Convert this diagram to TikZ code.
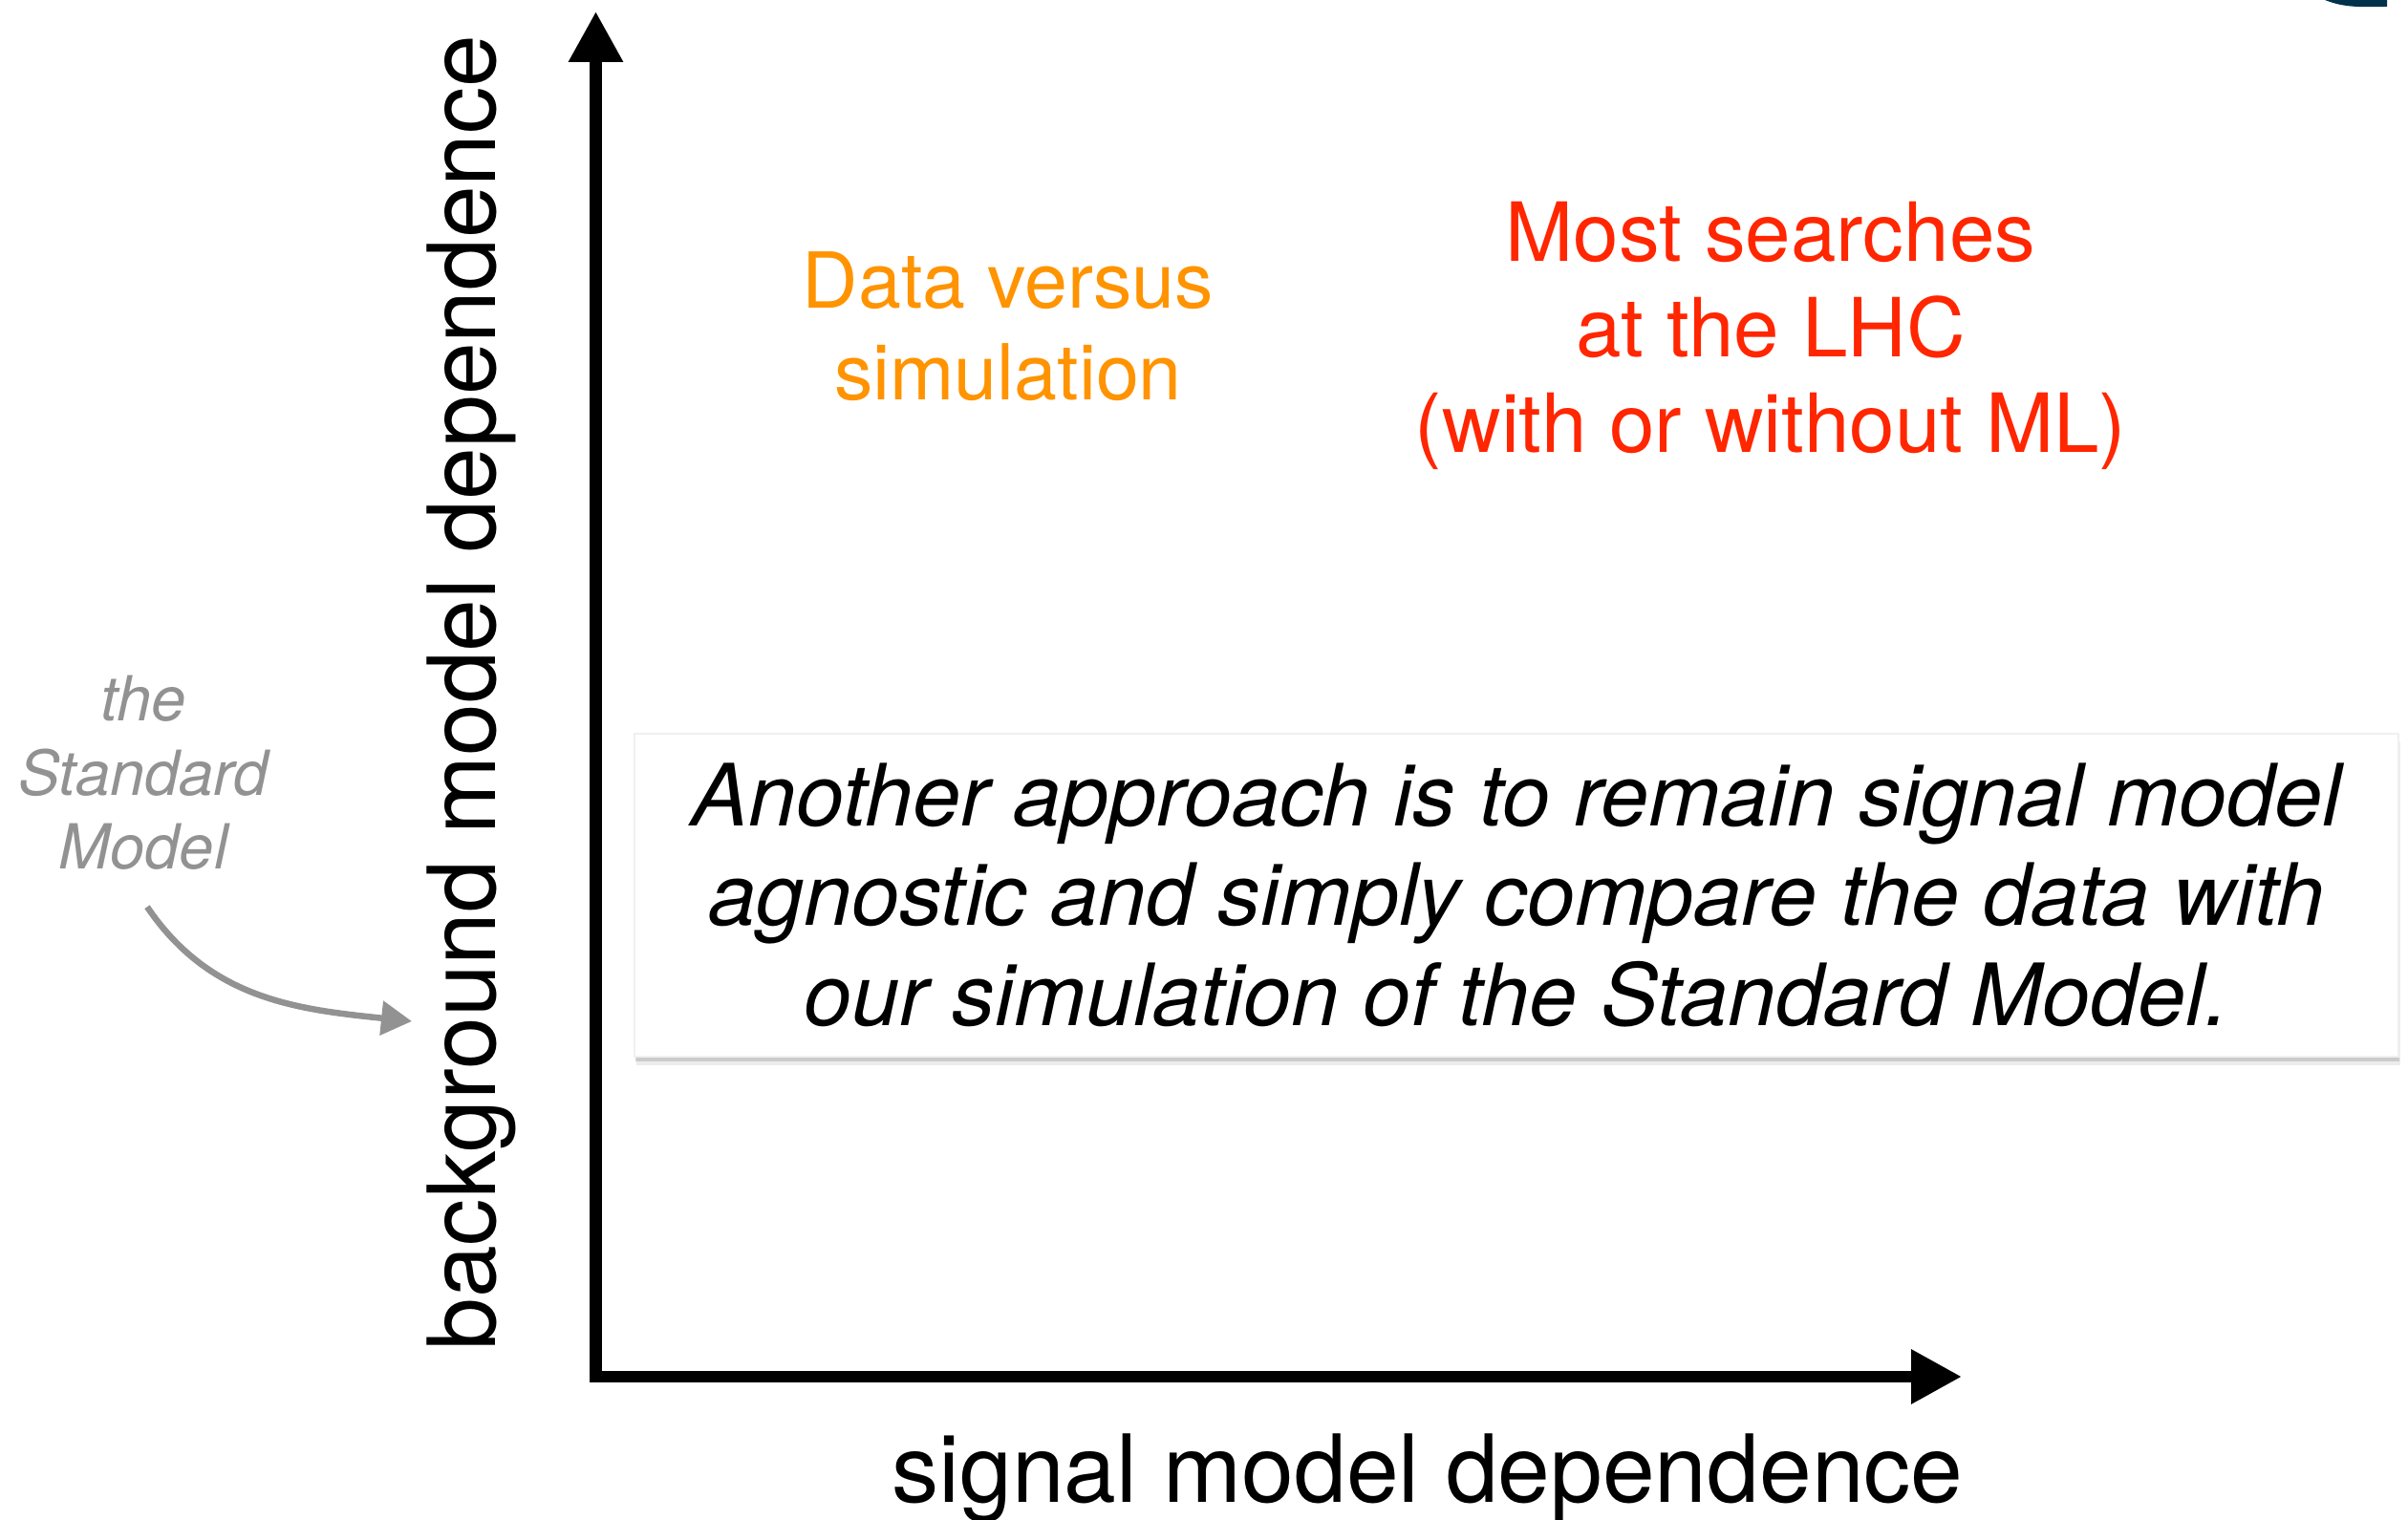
\documentclass[tikz,border=0pt]{standalone}
\usepackage{fontspec}
\setmainfont{TeX Gyre Heros}
\usepackage{xcolor}
\usepackage{tikz}
\usetikzlibrary{arrows.meta}
\usetikzlibrary{shadows}
\definecolor{dataorange}{RGB}{255,147,0}
\definecolor{lhcred}{RGB}{255,38,0}
\definecolor{smgrey}{RGB}{146,146,146}
\definecolor{logonavy}{RGB}{0,50,75}

\begin{document}
\begin{tikzpicture}[
		axisline/.style={line width=0.125cm, {Triangle[length=0.53cm,width=0.54cm]}-{Triangle[length=0.53cm,width=0.54cm]}},
		axislabel/.style={inner sep=0pt, font=\fontsize{28}{34}\selectfont},
		claim/.style={inner sep=0pt, align=center},
		note/.style={fill=white, draw=black!6, minimum width=18.46cm, minimum height=3.38cm, align=center,
			font=\itshape\fontsize{25.6}{29.7}\selectfont,
			drop shadow={shadow xshift=0.02cm, shadow yshift=-0.09cm, opacity=0.15},
			drop shadow={shadow xshift=0.01cm, shadow yshift=-0.05cm, opacity=0.3}},
		smarrow/.style={smgrey, line width=0.065cm, -{Triangle[length=0.32cm,width=0.35cm]}}
	]
			\useasboundingbox (0,0) rectangle (25.2,15.9);
			% corner of the logo
			\fill [logonavy] (24.33,15.9) .. controls (24.55,15.81) and (24.75,15.83) .. (24.98,15.83) -- (24.98,15.9) -- cycle;
			% axes
			\coordinate (ytip) at (6.235,15.78);
			\coordinate (xtip) at (20.53,1.49);
			\draw [axisline] (ytip) |- (xtip);
			\node [axislabel, rotate=90, anchor=base] (ylab) at (5.18,8.65) {background model dependence};
			\node [axislabel, anchor=base] (xlab) at (14.94,0.18) {signal model dependence};
			% regions
			\node [claim, dataorange, font=\fontsize{23}{27.3}\selectfont] (sim) at (10.55,12.485) {Data versus\\simulation};
			\node [claim, lhcred, font=\fontsize{24.3}{28.5}\selectfont] (lhc) at (18.53,12.385) {Most searches\\at the LHC\\(with or without ML)};
			\node [note] (note) at (15.87,6.53) {Another approach is to remain signal model\\agnostic and simply compare the data with\\our simulation of the Standard Model.};
			% the Standard Model
			\node [claim, smgrey, font=\itshape\fontsize{18.5}{22}\selectfont] (sm) at (1.50,7.81) {the\\Standard\\Model};
			\coordinate (smtip) at (4.31,5.21);
			\draw [smarrow] ([shift={(0.04,-0.38)}]sm.south) to [out=-56, in=174] (smtip);
		\end{tikzpicture}
\end{document}
